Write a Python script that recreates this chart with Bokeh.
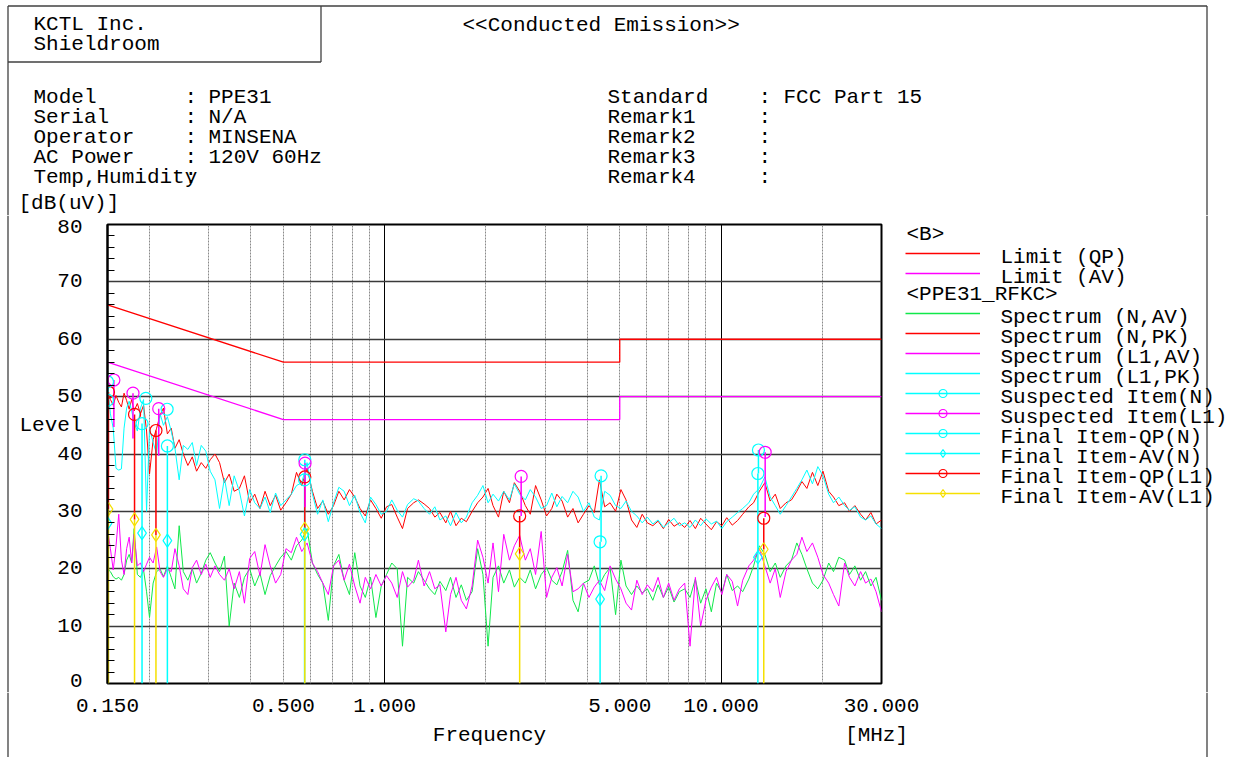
from bokeh.plotting import figure
from bokeh.layouts import column, row
from bokeh.models import (Range1d, FixedTicker, PrintfTickFormatter, Legend,
                          LegendItem, Grid, LogAxis)
from bokeh.core.properties import value
from bokeh.embed import file_html
from bokeh.resources import INLINE

FONT = "Liberation Mono"
FS = "21px"

# ---------------- data ----------------
freq = [
    0.150, 0.153, 0.156, 0.159, 0.162, 0.165, 0.168, 0.171, 0.174, 0.177,
    0.180, 0.184, 0.188, 0.192, 0.196, 0.200, 0.205, 0.210, 0.215, 0.220,
    0.226, 0.232, 0.238, 0.245, 0.252, 0.260, 0.268, 0.276, 0.285, 0.294,
    0.303, 0.313, 0.323, 0.334, 0.345, 0.357, 0.370, 0.383, 0.397, 0.411,
    0.426, 0.441, 0.457, 0.474, 0.491, 0.509, 0.528, 0.547, 0.567, 0.588,
    0.610, 0.632, 0.655, 0.680, 0.705, 0.731, 0.758, 0.786, 0.815, 0.845,
    0.876, 0.908, 0.942, 0.977, 1.013, 1.05, 1.09, 1.13, 1.17, 1.22,
    1.26, 1.31, 1.36, 1.41, 1.46, 1.52, 1.57, 1.63, 1.69, 1.75,
    1.82, 1.89, 1.96, 2.03, 2.10, 2.18, 2.26, 2.35, 2.43, 2.52,
    2.62, 2.71, 2.81, 2.92, 3.03, 3.14, 3.25, 3.37, 3.50, 3.63,
    3.76, 3.90, 4.05, 4.20, 4.35, 4.51, 4.68, 4.86, 5.04, 5.22,
    5.42, 5.62, 5.83, 6.04, 6.27, 6.50, 6.74, 6.99, 7.25, 7.52,
    7.80, 8.09, 8.39, 8.70, 9.02, 9.36, 9.70, 10.06, 10.4, 10.8,
    11.2, 11.6, 12.1, 12.5, 13.0, 13.5, 14.0, 14.5, 15.0, 15.6,
    16.2, 16.8, 17.4, 18.0, 18.7, 19.4, 20.1, 20.9, 21.6, 22.4,
    23.3, 24.1, 25.0, 26.0, 26.9, 27.9, 28.9, 30.0,
]

spec_n_pk = [
    50.8, 49.5, 48.5, 50.2, 49.0, 48.2, 50.6, 49.3, 47.8, 49.5,
    47.5, 48.8, 47.0, 48.5, 44.0, 36.5, 42.5, 44.5, 46.8, 48.0,
    43.5, 44.5, 41.0, 42.5, 40.0, 38.0, 39.5, 37.0, 38.5, 37.5,
    39.0, 40.0, 38.5, 35.0, 36.5, 33.5, 34.0, 36.2, 31.5, 33.0,
    30.5, 33.5, 31.0, 32.8, 30.2, 31.5, 33.0, 36.8, 34.5, 37.5,
    33.5, 30.5, 31.8, 29.5, 31.0, 33.5, 32.0, 33.8, 32.5, 30.5,
    29.2, 32.0, 30.5, 28.8, 30.8, 31.2, 29.0, 27.0, 30.5, 31.5,
    32.0, 31.3, 30.5, 29.0, 29.8, 28.0, 30.0, 27.5, 28.8, 28.2,
    30.0, 31.5, 32.5, 34.0, 31.0, 29.0, 33.5, 31.5, 35.0, 33.5,
    31.0, 29.5, 34.5, 32.0, 29.2, 30.5, 33.0, 31.8, 29.0, 30.5,
    28.0, 29.5, 31.0, 29.8, 35.5, 30.8, 31.5, 30.0, 33.8, 32.0,
    28.5, 27.2, 29.5, 28.0, 27.5, 28.3, 27.0, 28.6, 27.4, 28.0,
    27.2, 28.4, 27.0, 28.8, 27.8, 26.8, 28.2, 27.5, 28.9, 27.6,
    28.4, 29.5, 30.8, 31.5, 33.5, 35.0, 31.8, 33.0, 30.5, 31.5,
    32.0, 33.5, 35.2, 34.0, 36.8, 34.5, 37.0, 33.5, 32.5, 31.0,
    31.5, 30.0, 31.0, 29.5, 28.5, 29.8, 27.8, 28.5,
]

spec_l1_pk = [
    52.0, 47.0, 44.5, 37.5, 37.2, 37.4, 44.5, 48.0, 49.2, 47.5,
    45.5, 44.0, 48.0, 49.5, 30.0, 44.5, 42.0, 40.0, 47.0, 45.0,
    46.5, 44.0, 41.0, 35.5, 41.5, 40.8, 42.0, 38.0, 41.5, 40.5,
    37.0, 35.5, 30.5, 35.8, 31.0, 36.2, 33.5, 29.2, 33.8, 31.5,
    30.5, 32.5, 29.8, 33.2, 31.0, 32.0, 33.0, 34.5, 35.0, 38.5,
    33.0, 29.5, 32.0, 28.2, 31.5, 34.2, 33.5, 31.0, 32.8, 29.8,
    28.0, 32.5, 31.2, 29.5, 30.0, 32.0, 30.2, 29.0, 31.2, 32.2,
    31.8, 30.5, 29.5, 30.8, 28.5, 29.2, 27.5, 29.8, 28.0, 29.0,
    31.5, 32.8, 34.5, 31.5, 33.0, 31.8, 33.5, 32.0, 34.8, 33.0,
    32.0, 33.8, 32.5, 30.5, 31.0, 33.2, 30.8, 32.6, 31.5, 33.5,
    32.5, 30.0, 31.5, 29.0, 28.5, 33.5, 32.8, 31.0, 30.5, 31.8,
    30.0, 29.2, 28.0, 29.0, 27.8, 28.5, 27.2, 28.0, 28.8, 27.5,
    28.0, 27.2, 28.5, 27.5, 28.7, 27.8, 28.3, 27.0, 28.2, 29.0,
    29.8, 30.5, 31.5, 33.0, 34.0, 36.0, 32.5, 31.0, 29.5, 31.0,
    32.5, 34.0, 35.5, 37.2, 34.8, 37.8, 36.2, 33.0, 31.5, 32.5,
    31.0, 30.2, 30.8, 29.0, 28.5, 29.2, 27.8, 27.0,
]

spec_n_av = [
    20.0, 19.5, 18.6, 18.2, 18.5, 18.0, 19.0, 21.5, 22.5, 21.0,
    27.0, 19.0, 18.5, 19.8, 16.0, 11.5, 17.5, 19.5, 20.0, 18.6,
    20.5, 18.5, 16.5, 27.5, 19.5, 18.0, 20.0, 17.5, 19.2, 21.5,
    22.8, 21.0, 19.5, 22.2, 10.0, 17.5, 15.0, 18.5, 20.0, 17.0,
    19.2, 15.5, 18.8, 20.5, 22.0, 23.0, 21.5, 24.0, 25.0, 27.0,
    21.0, 19.0, 17.5, 11.0, 20.5, 22.5, 18.0, 15.5, 22.8, 17.0,
    15.0, 18.5, 11.5, 17.0, 19.0, 21.0, 20.0, 6.5, 18.5, 17.5,
    19.5, 18.0, 16.5, 15.5, 17.8, 16.2, 18.5, 15.0, 17.2, 14.5,
    16.0, 23.5, 19.0, 6.5, 18.5, 20.5, 17.5, 19.8, 16.8, 18.5,
    17.5, 19.8, 16.5, 19.0, 20.2, 18.0, 17.2, 19.5, 23.2, 14.5,
    12.5, 17.5, 18.0, 20.5, 17.2, 19.0, 20.2, 12.0, 21.5, 17.0,
    15.5, 17.0, 15.8, 16.5, 14.5, 17.2, 15.0, 16.8, 14.2, 16.0,
    16.5, 15.0, 18.2, 14.0, 16.5, 12.5, 17.5, 15.8, 19.0, 16.2,
    17.0, 16.0, 18.2, 20.5, 24.0, 22.5, 19.5, 21.0, 18.5, 20.5,
    21.5, 24.5, 22.5, 20.0, 17.5, 16.5, 18.0, 21.0, 19.5, 22.0,
    21.5, 19.0, 20.5, 18.0, 19.5, 17.0, 18.5, 14.5,
]

spec_l1_av = [
    27.0, 23.5, 19.8, 24.0, 29.5, 21.5, 19.0, 23.5, 25.5, 21.0,
    26.0, 20.5, 21.0, 19.5, 20.8, 22.0, 21.0, 23.8, 19.5, 18.5,
    20.0, 19.5, 23.5, 20.5, 16.5, 15.5, 20.2, 21.5, 19.0, 20.8,
    18.5, 20.5, 19.0, 18.0, 20.0, 16.5, 19.5, 14.0, 21.8, 23.0,
    18.8, 24.2, 20.5, 17.5, 19.0, 23.5, 22.8, 25.5, 23.0, 24.5,
    21.0, 19.5, 17.5, 15.5, 20.5, 21.5, 18.0, 20.8, 17.0, 14.0,
    18.5, 16.5, 19.0, 17.0, 18.8, 17.5, 15.0, 19.5, 16.8, 18.0,
    21.5, 17.0, 19.5, 16.5, 17.2, 9.0, 15.5, 18.5, 14.5, 13.0,
    17.0, 25.0, 22.0, 17.5, 24.5, 16.0, 26.0, 21.5, 24.0, 25.8,
    21.5, 23.5, 19.0, 26.5, 15.0, 18.5, 20.2, 17.0, 22.5, 16.0,
    16.5, 17.5, 15.0, 16.8, 18.0, 16.2, 20.5, 18.2, 16.5, 14.0,
    12.8, 18.0, 15.5, 17.2, 16.0, 18.5, 15.0, 17.5, 14.5, 16.5,
    17.5, 6.5, 18.5, 10.0, 14.5, 16.8, 18.5, 15.5, 19.0, 17.8,
    13.5, 18.0, 20.5, 21.5, 23.5, 20.5, 17.5, 20.0, 15.0, 19.5,
    21.5, 22.5, 25.5, 23.0, 24.5, 22.0, 19.0, 17.5, 15.5, 13.5,
    21.0, 18.5, 17.0, 19.5, 17.5, 18.2, 16.0, 12.5,
]

# limits (FCC Part 15 class B)
limit_freq = [0.15, 0.5, 5.0, 5.0, 30.0]
limit_qp = [66.0, 56.0, 56.0, 60.0, 60.0]
limit_av = [56.0, 46.0, 46.0, 50.0, 50.0]

# suspected items
sus_n_freq = [0.150, 0.195, 0.2256, 0.579, 4.40, 12.92]
sus_n_level = [52.6, 49.7, 47.8, 39.0, 36.2, 40.7]
sus_n_stem_to = [49.4, 49.7, 47.8, 35.5, 24.7, 36.6]
sus_l1_freq = [0.1567, 0.1786, 0.213, 0.580, 2.546, 13.53]
sus_l1_level = [52.9, 50.6, 47.9, 38.4, 36.1, 40.3]
sus_l1_stem_to = [44.7, 42.7, 39.7, 30.7, 29.2, 29.0]

# final items
fin_n_freq = [0.150, 0.190, 0.226, 0.578, 4.37, 12.87]
fin_n_qp = [49.4, 45.3, 41.4, 35.5, 24.7, 36.6]
fin_n_av = [27.9, 26.2, 24.9, 26.0, 14.7, 22.0]
fin_l1_freq = [0.151, 0.1805, 0.209, 0.579, 2.52, 13.4]
fin_l1_qp = [50.8, 46.9, 44.1, 36.0, 29.2, 28.8]
fin_l1_av = [30.4, 28.6, 25.9, 27.0, 22.6, 23.4]

y_ticks = [0, 10, 20, 30, 40, 45, 50, 60, 70, 80]
y_label_overrides = {45: "Level"}
y_minor = [2, 4, 6, 8, 12, 14, 16, 18, 22, 24, 26, 28, 32, 34, 36, 38,
           42, 44, 46, 48, 52, 54, 56, 58, 62, 64, 66, 68, 72, 74, 76, 78]
y_grid = [10, 20, 30, 40, 50, 60, 70]
x_ticks = [0.15, 0.5, 1.0, 5.0, 10.0, 30.0]
x_grid_major = [1.0, 10.0]
x_grid_minor = [0.2, 0.3, 0.4, 0.5, 0.6, 0.7, 0.8, 0.9,
                2, 3, 4, 5, 6, 7, 8, 9, 20]

header_left = [("Model", "PPE31"), ("Serial", "N/A"), ("Operator", "MINSENA"),
               ("AC Power", "120V 60Hz"), ("Temp,Humidity", "")]
header_right = [("Standard", "FCC Part 15"), ("Remark1", ""), ("Remark2", ""),
                ("Remark3", ""), ("Remark4", "")]

RED = "#ff0000"
MAG = "#ff00ff"
CYAN = "#00ffff"
GREEN = "#10e84a"
YEL = "#f5e000"
PAGE_LINE = "#404040"

# ---------------- page geometry (pixels) ----------------
PAGE_W = 1234
T_H = 215                 # header band
MID_TOP, MID_BOT = 215, 692
BOT_H = 65
FRAME_L, FRAME_R, FRAME_T, FRAME_B = 107, 881, 224, 683
LEFT_W = 16
M_RIGHT = 883
X_RIGHT = 1200
PAGE_LX, PAGE_RX, PAGE_TY = 7.5, 1206.5, 5.5


def blank(width, height, x0, x1, y0, y1):
    f = figure(width=width, height=height, x_range=Range1d(x0, x1),
               y_range=Range1d(y1, y0), output_backend="svg",
               toolbar_location=None, x_axis_location=None,
               y_axis_location=None, min_border=0, min_border_left=0,
               min_border_right=0, min_border_top=0, min_border_bottom=0,
               title=None, frame_align=False)
    f.outline_line_color = None
    f.grid.visible = False
    f.background_fill_color = "white"
    f.border_fill_color = "white"
    return f


def put_text(f, xs, ys, texts, align="left"):
    f.text(x=xs, y=ys, text=texts, text_font=value(FONT),
           text_font_size=value(FS), text_align=align,
           text_baseline="middle", text_color="black")


# ---------------- header figure ----------------
T = blank(PAGE_W, T_H, 0, PAGE_W, 0, T_H)
T.segment(x0=[PAGE_LX, PAGE_LX, PAGE_RX, PAGE_LX, 320.5],
          y0=[PAGE_TY, PAGE_TY, PAGE_TY, 61.5, PAGE_TY],
          x1=[PAGE_RX, PAGE_LX, PAGE_RX, 320.5, 320.5],
          y1=[PAGE_TY, T_H, T_H, 61.5, 61.5],
          line_color=PAGE_LINE, line_width=1.3)
hx, hy, ht = [], [], []
for txt, x, y in [("KCTL Inc.", 33, 24), ("Shieldroom", 33, 44),
                  ("<<Conducted Emission>>", 462, 25), ("[dB(uV)]", 18, 203)]:
    hx.append(x); hy.append(y); ht.append(txt)
for i, (k, v) in enumerate(header_left):
    y = 97 + 20 * i
    hx += [33, 184]; hy += [y, y]; ht += [k, ":"]
    if v:
        hx.append(208); hy.append(y); ht.append(v)
for i, (k, v) in enumerate(header_right):
    y = 97 + 20 * i
    hx += [607, 758]; hy += [y, y]; ht += [k, ":"]
    if v:
        hx.append(783); hy.append(y); ht.append(v)
put_text(T, hx, hy, ht)

# ---------------- left strip ----------------
L = blank(LEFT_W, MID_BOT - MID_TOP, 0, LEFT_W, MID_TOP, MID_BOT)
L.segment(x0=[PAGE_LX], y0=[MID_TOP], x1=[PAGE_LX], y1=[MID_BOT],
          line_color=PAGE_LINE, line_width=1.3)

# ---------------- main chart ----------------
xr = Range1d(0.15, 30.0)
M = figure(width=M_RIGHT - LEFT_W, height=MID_BOT - MID_TOP, title=None,
           x_axis_type="log", x_axis_location=None, y_axis_location="left",
           x_range=xr, y_range=Range1d(0, 80), output_backend="svg",
           toolbar_location=None, frame_align=False,
           min_border_left=FRAME_L - LEFT_W, min_border_right=M_RIGHT - FRAME_R,
           min_border_top=FRAME_T - MID_TOP, min_border_bottom=MID_BOT - FRAME_B)
M.background_fill_color = "white"
M.border_fill_color = "white"
M.outline_line_color = "black"
M.outline_line_width = 2
M.center = [r for r in M.center if not isinstance(r, Grid)]

yax = M.yaxis[0]
yax.ticker = FixedTicker(ticks=y_ticks, minor_ticks=y_minor)
yax.major_label_overrides = y_label_overrides
yax.major_tick_in = 0
yax.major_tick_out = 0
yax.minor_tick_in = 7
yax.minor_tick_out = 0
yax.minor_tick_line_color = "black"
yax.axis_line_width = 2
yax.major_label_standoff = 25
yax.major_label_text_font = FONT
yax.major_label_text_font_size = FS
yax.major_label_text_color = "black"

gx = Grid(dimension=0, ticker=FixedTicker(ticks=x_grid_major, minor_ticks=x_grid_minor),
          grid_line_color="black", grid_line_width=1,
          minor_grid_line_color="#8a8a8a", minor_grid_line_dash="2 1")
gy = Grid(dimension=1, ticker=FixedTicker(ticks=y_grid),
          grid_line_color="#3a3a3a", grid_line_width=1.5)
M.add_layout(gx)
M.add_layout(gy)

M.line(limit_freq, limit_qp, line_color=RED, line_width=1.3)
M.line(limit_freq, limit_av, line_color=MAG, line_width=1.3)
M.line(freq, spec_n_av, line_color=GREEN, line_width=1)
M.line(freq, spec_l1_av, line_color=MAG, line_width=1)
M.line(freq, spec_n_pk, line_color=RED, line_width=1)
M.line(freq, spec_l1_pk, line_color=CYAN, line_width=1)

base = [0.0] * len(fin_n_freq)
M.segment(x0=fin_n_freq, y0=base, x1=fin_n_freq, y1=fin_n_qp,
          line_color=CYAN, line_width=1.5)
M.segment(x0=fin_l1_freq, y0=base, x1=fin_l1_freq, y1=fin_l1_av,
          line_color=YEL, line_width=1.5)
M.segment(x0=fin_l1_freq, y0=fin_l1_av, x1=fin_l1_freq, y1=fin_l1_qp,
          line_color=RED, line_width=1.5)
M.segment(x0=sus_n_freq, y0=sus_n_stem_to, x1=sus_n_freq, y1=sus_n_level,
          line_color=CYAN, line_width=1.5)
M.segment(x0=sus_l1_freq, y0=sus_l1_stem_to, x1=sus_l1_freq, y1=sus_l1_level,
          line_color=MAG, line_width=1.5)

M.scatter(fin_n_freq, fin_n_av, marker="diamond", size=13, fill_alpha=0,
          line_color=CYAN, line_width=1.2)
M.scatter(fin_l1_freq, fin_l1_av, marker="diamond", size=13, fill_alpha=0,
          line_color=YEL, line_width=1.2)
M.scatter(fin_l1_freq, fin_l1_qp, marker="circle", size=12, fill_alpha=0,
          line_color=RED, line_width=1.2)
M.scatter(fin_n_freq, fin_n_qp, marker="circle", size=12, fill_alpha=0,
          line_color=CYAN, line_width=1.2)
M.scatter(sus_n_freq, sus_n_level, marker="circle", size=12, fill_alpha=0,
          line_color=CYAN, line_width=1.2)
M.scatter(sus_l1_freq, sus_l1_level, marker="circle", size=12, fill_alpha=0,
          line_color=MAG, line_width=1.2)

# ---------------- legend panel ----------------
R = blank(PAGE_W - M_RIGHT, MID_BOT - MID_TOP, M_RIGHT, PAGE_W, MID_TOP, MID_BOT)
R.segment(x0=[PAGE_RX], y0=[MID_TOP], x1=[PAGE_RX], y1=[MID_BOT],
          line_color=PAGE_LINE, line_width=1.3)


# legend-only renderers: a single point placed off the visible area of this panel
def lg_line(color, alpha=1.0):
    return R.line(x=[0.0, 1.0], y=[0.0, 0.0], line_color=color, line_width=1.3,
                  line_alpha=alpha)


def lg_mark(marker, color):
    return R.scatter(x=[0.0], y=[0.0], marker=marker,
                     size=12 if marker == "circle" else 13,
                     fill_alpha=0, line_color=color, line_width=1.2)


legend_rows = [
    ("<B>", [lg_line("white", alpha=0)]),
    ("Limit (QP)", [lg_line(RED)]),
    ("Limit (AV)", [lg_line(MAG)]),
    ("<PPE31_RFKC>", [lg_line("white", alpha=0)]),
    ("Spectrum (N,AV)", [lg_line(GREEN)]),
    ("Spectrum (N,PK)", [lg_line(RED)]),
    ("Spectrum (L1,AV)", [lg_line(MAG)]),
    ("Spectrum (L1,PK)", [lg_line(CYAN)]),
    ("Suspected Item(N)", [lg_line(CYAN), lg_mark("circle", CYAN)]),
    ("Suspected Item(L1)", [lg_line(MAG), lg_mark("circle", MAG)]),
    ("Final Item-QP(N)", [lg_line(CYAN), lg_mark("circle", CYAN)]),
    ("Final Item-AV(N)", [lg_line(CYAN), lg_mark("diamond", CYAN)]),
    ("Final Item-QP(L1)", [lg_line(RED), lg_mark("circle", RED)]),
    ("Final Item-AV(L1)", [lg_line(YEL), lg_mark("diamond", YEL)]),
]
LEG_X, LEG_TOP, ROW = 905, 223, 20
leg_bottom = LEG_TOP + ROW * len(legend_rows)
legend = Legend(items=[LegendItem(label=" ", renderers=rs, index=0)
                       for _, rs in legend_rows],
                location=(LEG_X - M_RIGHT, MID_BOT - leg_bottom),
                glyph_width=75, glyph_height=ROW, label_height=ROW, label_width=2,
                spacing=0, padding=0, margin=0, label_standoff=0,
                label_text_font_size="6px", border_line_color=None,
                background_fill_alpha=0)
R.add_layout(legend)

lx, ly, lt = [], [], []
for i, (txt, rs) in enumerate(legend_rows):
    header = txt.startswith("<") and txt.endswith(">")
    lx.append(906 if header else 1000)
    ly.append(LEG_TOP + ROW * i + ROW / 2 + (1 if header else 4))
    lt.append(txt)
put_text(R, lx, ly, lt)

# ---------------- bottom band: x tick labels + axis titles ----------------
L2 = blank(LEFT_W, BOT_H, 0, LEFT_W, MID_BOT, MID_BOT + BOT_H)
L2.segment(x0=[PAGE_LX], y0=[MID_BOT], x1=[PAGE_LX], y1=[MID_BOT + BOT_H],
           line_color=PAGE_LINE, line_width=1.3)
R2 = blank(PAGE_W - X_RIGHT, BOT_H, X_RIGHT, PAGE_W, MID_BOT, MID_BOT + BOT_H)
R2.segment(x0=[PAGE_RX], y0=[MID_BOT], x1=[PAGE_RX], y1=[MID_BOT + BOT_H],
           line_color=PAGE_LINE, line_width=1.3)

X = figure(width=X_RIGHT - LEFT_W, height=BOT_H, title=None, x_axis_type="log",
           y_axis_location=None, x_range=xr, y_range=Range1d(0, 1),
           output_backend="svg", toolbar_location=None, frame_align=False,
           min_border_left=FRAME_L - LEFT_W, min_border_right=X_RIGHT - FRAME_R,
           min_border_top=0, min_border_bottom=BOT_H - 1)
X.outline_line_color = None
X.center = [r for r in X.center if not isinstance(r, Grid)]
X.background_fill_color = "white"
X.border_fill_color = "white"
xax = X.xaxis[0]
xax.ticker = FixedTicker(ticks=x_ticks, minor_ticks=[])
xax.formatter = PrintfTickFormatter(format="%.3f")
xax.axis_line_color = None
xax.major_tick_line_color = None
xax.minor_tick_line_color = None
xax.major_label_standoff = -1
xax.major_label_text_font = FONT
xax.major_label_text_font_size = FS
xax.major_label_text_color = "black"

# axis titles placed at their frequency positions on a second (label-only) axis
title_pos = [2.05, 29.0]
ax2 = LogAxis(ticker=FixedTicker(ticks=title_pos, minor_ticks=[]),
              major_label_overrides={2.05: "Frequency", 29.0: "[MHz]"},
              axis_line_color=None, major_tick_line_color=None,
              minor_tick_line_color=None, major_label_standoff=3,
              major_label_text_font=FONT, major_label_text_font_size=FS,
              major_label_text_color="black")
X.add_layout(ax2, "below")

layout = column(T, row(L, M, R, spacing=0), row(L2, X, R2, spacing=0), spacing=0)
open("out.html", "w").write(file_html(layout, INLINE))
